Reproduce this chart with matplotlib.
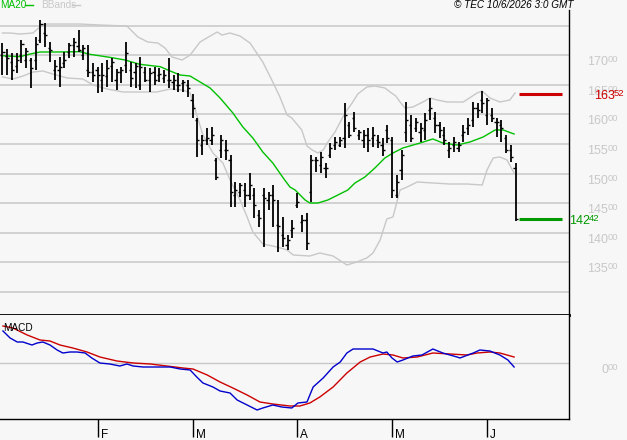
import numpy as np
import pandas as pd
import matplotlib
matplotlib.use("Agg")
import matplotlib.pyplot as plt
import matplotlib.transforms as mtransforms

plt.rcParams['font.family'] = ['Liberation Sans', 'DejaVu Sans']

######################## daily bars (trading days) ########################
holidays = ['2026-04-03', '2026-04-06', '2026-05-01']
dates = pd.bdate_range('2026-01-05', '2026-06-09')
dates = dates[~dates.isin(pd.to_datetime(holidays))]

opens = [17005, 16989, 16887, 16820, 17005, 16921, 16921, 16921, 17259, 17377,
         17124, 16752, 16752, 16870, 17056, 17174, 17158, 17005, 16752, 16718,
         16752, 16583, 16651, 16820, 16583, 16718, 16836, 16752, 16718, 16498,
         16718, 16583, 16718, 16667, 16617, 16583, 16549, 16498, 16532, 16498,
         16245, 15907, 15484, 15569, 15569, 15231, 15400, 15400, 15231, 14639,
         14690, 14724, 14639, 14639, 14301, 14639, 14555, 14639, 14132, 13963,
         13794, 14048, 14470, 14183, 14217, 14690, 15231, 15146, 15096, 15315,
         15484, 15484, 15603, 15822, 15941, 15653, 15569, 15653, 15603, 15569,
         15484, 15738, 15569, 14639, 15062, 15704, 15822, 15772, 15704, 15738,
         16076, 15941, 15822, 15653, 15400, 15484, 15434, 15653, 15772, 15907,
         16110, 16245, 15991, 15991, 15873, 15822, 15603, 15400, 15096]
highs = [17208, 17107, 17039, 17039, 17259, 17124, 16955, 17310, 17597, 17546,
         17225, 16921, 16972, 17056, 17208, 17293, 17428, 17174, 17174, 16870,
         16803, 16870, 16921, 16955, 16769, 16803, 17225, 16887, 16870, 16972,
         16803, 16786, 16803, 16786, 16752, 16955, 16667, 16701, 16583, 16583,
         16346, 15941, 15653, 15772, 15789, 15265, 15653, 15569, 15315, 14859,
         14842, 14842, 15011, 14758, 14386, 14758, 14690, 14808, 14555, 14268,
         13963, 14217, 14673, 14301, 14335, 15315, 15282, 15366, 15180, 15518,
         15620, 15620, 16194, 15873, 16042, 15738, 15738, 15772, 15789, 15653,
         15603, 15822, 15620, 14977, 15400, 16211, 15991, 15941, 15856, 16025,
         16279, 16042, 15873, 15789, 15535, 15620, 15535, 15822, 15941, 16211,
         16194, 16397, 16279, 16110, 15941, 15907, 15653, 15484, 15180]
lows = [16667, 16667, 16583, 16701, 16870, 16786, 16448, 16752, 17208, 17141,
        16887, 16583, 16465, 16786, 16955, 16972, 17056, 16921, 16634, 16549,
        16363, 16380, 16465, 16549, 16414, 16532, 16701, 16465, 16448, 16414,
        16549, 16380, 16498, 16549, 16532, 16448, 16414, 16380, 16380, 16296,
        15941, 15282, 15315, 15484, 15484, 14893, 15265, 15231, 14437, 14437,
        14606, 14437, 14555, 14251, 14099, 13761, 14386, 14099, 13676, 13761,
        13710, 13913, 14420, 14014, 13710, 14521, 15028, 15011, 14927, 15265,
        15400, 15451, 15434, 15603, 15704, 15569, 15434, 15366, 15451, 15434,
        15299, 15518, 14589, 14589, 14893, 15535, 15535, 15704, 15535, 15569,
        15907, 15687, 15603, 15484, 15265, 15366, 15366, 15535, 15653, 15789,
        15941, 16025, 15822, 15873, 15620, 15535, 15349, 15197, 14200]
closes = [17056, 16955, 16752, 16921, 17191, 17073, 16786, 17191, 17529, 17343,
          17090, 16820, 16803, 16921, 17174, 17225, 17090, 17124, 16718, 16667,
          16667, 16667, 16786, 16887, 16718, 16752, 17039, 16617, 16820, 16803,
          16583, 16701, 16583, 16684, 16667, 16583, 16583, 16498, 16549, 16448,
          16110, 15569, 15569, 15603, 15653, 14944, 15569, 15400, 14690, 14724,
          14808, 14639, 14808, 14470, 14251, 14589, 14639, 14555, 14116, 13913,
          13879, 14082, 14521, 14217, 13828, 15231, 15231, 15282, 15096, 15434,
          15535, 15569, 15991, 15653, 15772, 15704, 15653, 15569, 15653, 15535,
          15400, 15603, 14724, 14859, 15315, 15907, 15603, 15873, 15772, 15907,
          16110, 15822, 15738, 15569, 15434, 15535, 15484, 15704, 15822, 16110,
          16076, 16194, 16245, 15941, 15873, 15772, 15400, 15282, 14242]

######################## indicators ########################
ma_pos = [0, 3.7, 5.8, 7.9, 11.1, 16.3, 18.4, 22.6, 25.8, 28.9, 33.2, 35.3, 37.4, 39.5,
          43.7, 45.8, 48.5, 50.6, 52.7, 54.8, 56.9, 59.1, 60.5, 61.6, 63.7, 64.7, 66.4,
          68.5, 70.6, 72.7, 74.2, 76.3, 78.4, 80.5, 82.2, 84.3, 87.9, 90.6, 92.7, 95.7,
          98.4, 101.2, 103.7, 105.4, 107.7]
ma_vals = [16993, 16977, 17022, 17056, 17056, 17061, 17017, 16966, 16921, 16848, 16808,
           16735, 16667, 16650, 16448, 16279, 16025, 15789, 15603, 15366, 15180, 14927,
           14775, 14724, 14555, 14504, 14504, 14555, 14639, 14724, 14842, 14944, 15096,
           15265, 15349, 15434, 15518, 15586, 15518, 15484, 15535, 15620, 15738, 15738,
           15670]

bb_up_pos = [0, 1.6, 3.7, 6.4, 7.9, 9.4, 12.1, 16.3, 20.5, 26.2, 28.5, 30.6, 32.7, 34.2,
             35.7, 37.8, 39.5, 41.6, 43.7, 45.2, 46.2, 47.9, 50.0, 52.1, 54.8, 56.9, 58.4,
             59.9, 60.9, 63.0, 64.1, 65.2, 66.4, 67.5, 68.5, 70.0, 72.1, 73.6, 74.8, 76.7,
             78.4, 80.5, 81.6, 82.8, 83.7, 84.7, 86.4, 88.5, 90.0, 91.5, 93.6, 97.0, 99.9,
             101.0, 102.6, 104.7, 106.8, 107.9]
bb_up_vals = [17377, 17377, 17360, 17377, 17479, 17529, 17529, 17529, 17512, 17495, 17310,
              17225, 17208, 17124, 16972, 16921, 17005, 17225, 17326, 17394, 17343, 17377,
              17326, 17208, 16887, 16549, 16296, 15991, 15941, 15738, 15467, 15400, 15349,
              15400, 15535, 15704, 16025, 16194, 16346, 16465, 16481, 16448, 16380, 16312,
              16211, 16110, 16127, 16211, 16279, 16245, 16211, 16211, 16363, 16397, 16279,
              16211, 16245, 16363]

bb_lo_pos = [0, 2.2, 4.3, 6.4, 8.5, 10.6, 13.6, 16.9, 19.1, 22.0, 25.4, 28.9, 32.5, 35.3,
             38.0, 39.5, 40.9, 42.2, 44.3, 46.4, 47.9, 50.0, 51.5, 52.7, 54.8, 57.8, 59.9,
             61.2, 64.7, 66.8, 69.6, 72.5, 74.6, 76.7, 78.0, 79.5, 80.9, 82.2, 83.7, 85.2,
             87.3, 90.6, 94.2, 97.8, 101.0, 102.0, 103.3, 104.7, 106.2, 107.7]
bb_lo_vals = [16634, 16600, 16650, 16718, 16735, 16684, 16617, 16600, 16498, 16431, 16380,
              16380, 16380, 16431, 16414, 16363, 15991, 15653, 15349, 15180, 14893, 14555,
              14268, 14014, 13811, 13761, 13710, 13625, 13608, 13659, 13608, 13456, 13507,
              13575, 13659, 13879, 14234, 14268, 14724, 14775, 14859, 14842, 14825, 14825,
              14808, 15062, 15265, 15282, 15231, 15011]

macd_pos = [0.1, 1.6, 3.1, 4.3, 6.2, 7.3, 8.5, 10.0, 11.5, 12.7, 14.2, 15.7, 17.4, 18.8,
            20.5, 22.6, 24.7, 26.2, 27.5, 29.6, 32.5, 35.3, 37.4, 39.5, 40.9, 42.2, 44.3,
            45.8, 47.9, 49.4, 51.5, 53.6, 54.8, 56.9, 58.8, 60.9, 62.2, 64.1, 65.4, 67.5,
            69.6, 71.1, 72.5, 73.8, 78.0, 80.1, 80.9, 82.0, 83.1, 84.3, 86.4, 88.3, 90.6,
            92.7, 95.7, 96.3, 99.1, 100.5, 102.6, 104.7, 106.4, 107.7]
macd_vals = [256, 200, 168, 168, 144, 160, 168, 144, 104, 80, 88, 88, 80, 40,
             0, -8, -24, -8, -24, -32, -32, -32, -48, -56, -112, -160, -192,
             -224, -240, -296, -336, -376, -360, -336, -352, -360, -320, -312, -192, -120,
             -32, 8, 80, 112, 112, 80, 88, 40, 8, 24, 56, 64, 112,
             80, 48, 40, 80, 104, 96, 64, 24, -32]

signal_pos = [0.1, 2.2, 5.2, 7.9, 10.0, 12.1, 14.8, 17.8, 20.5, 24.1, 27.5, 31.1, 34.6,
              38.0, 40.1, 43.1, 45.8, 48.5, 51.5, 54.2, 56.9, 60.5, 62.6, 64.7, 66.8, 69.6,
              72.5, 75.3, 77.4, 80.1, 82.2, 84.3, 87.3, 90.6, 94.2, 97.8, 99.9, 102.6, 104.7,
              107.7]
signal_vals = [296, 280, 224, 184, 176, 144, 120, 88, 48, 16, 0, -8, -24,
               -40, -48, -96, -152, -200, -256, -312, -328, -344, -344, -320, -272, -192,
               -80, 8, 48, 72, 64, 40, 48, 80, 72, 64, 80, 88, 80,
               48]

level_high = 16352
level_last = 14242
grid_levels = np.arange(13000, 17501, 500)
label_levels = np.arange(13500, 17001, 500)

##############################################################################
#################################### Plot ####################################
##############################################################################
W, H = 627, 440
bg = '#f7f7f7'
gray = '#c8c8c8'

fig = plt.figure(figsize=(W / 100, H / 100), dpi=100, facecolor=bg)
ax = fig.add_axes([0, (H - 315) / H, 569 / W, 305 / H], facecolor=bg)
axm = fig.add_axes([0, (H - 419) / H, 569 / W, 104 / H], facecolor=bg, sharex=ax)

x = np.arange(len(closes))
xlim = (-0.526, 119.26)

for lv in grid_levels:
    ax.axhline(lv, color=gray, lw=1.1, zorder=1)

ax.plot(bb_up_pos, bb_up_vals, color=gray, lw=1, zorder=2)
ax.plot(bb_lo_pos, bb_lo_vals, color=gray, lw=1, zorder=2)
ax.plot(ma_pos, ma_vals, color='#00c000', lw=1, zorder=3)

ax.vlines(x, lows, highs, color='black', lw=1.3, zorder=4)
ax.hlines(opens, x - 0.45, x, color='black', lw=1, zorder=4)
ax.hlines(closes, x, x + 0.45, color='black', lw=1, zorder=4)

n = len(closes)
ax.hlines(level_high, n - 0.3, n + 8.8, color='#cc0000', lw=2.2, zorder=4)
ax.hlines(level_last, n - 0.3, n + 8.8, color='#009900', lw=2.2, zorder=4)

ax.set_xlim(*xlim)
ax.set_ylim(12611, 17766)
for s in ['left', 'top']:
    ax.spines[s].set_visible(False)
ax.spines['right'].set_linewidth(1)
ax.spines['bottom'].set_linewidth(2)
ax.tick_params(left=False, bottom=False, labelleft=False, labelbottom=False)


def two_part(axis, xm, xs, y, big, small, color, dy):
    # big digits + raised small digits, like "170" "00"
    tr = mtransforms.blended_transform_factory(fig.transFigure, axis.transData)
    t1 = mtransforms.offset_copy(tr, fig=fig, y=-dy, units='dots')
    t2 = mtransforms.offset_copy(tr, fig=fig, y=-dy + 3, units='dots')
    axis.text(xm / W, y, big, transform=t1, color=color, fontsize=9,
              va='baseline', ha='left', clip_on=False)
    axis.text(xs / W, y, small, transform=t2, color=color, fontsize=6.8,
              va='baseline', ha='left', clip_on=False)


for lv in label_levels:
    two_part(ax, 587, 608, lv, str(lv // 100), '%02d' % (lv % 100), gray, 10)
two_part(ax, 594, 614, level_high, str(level_high // 100), '%02d' % (level_high % 100), '#cc0000', 5)
two_part(ax, 569, 589, level_last, str(level_last // 100), '%02d' % (level_last % 100), '#009900', 5)

# legend + stamp
fig.text(0 / W, (H - 8) / H, 'MA20', color='#00c000', fontsize=7.2, va='baseline')
fig.add_artist(plt.Line2D([25 / W, 33 / W], [(H - 5) / H] * 2, color='#00c000', lw=1))
fig.text(41 / W, (H - 8) / H, 'BBands', color=gray, fontsize=7.2, va='baseline')
fig.add_artist(plt.Line2D([72 / W, 80 / W], [(H - 5) / H] * 2, color=gray, lw=1))
fig.text(574 / W, (H - 8) / H, '\u00a9 TEC 10/6/2026 3:0 GMT', color='black',
         fontsize=7.2, style='italic', ha='right', va='baseline')

# MACD panel
axm.axhline(0, color=gray, lw=1, zorder=1)
axm.plot(macd_pos, macd_vals, color='#0000cc', lw=1, zorder=3)
axm.plot(signal_pos, signal_vals, color='#cc0000', lw=1, zorder=2)
axm.set_ylim(-448, 384)
axm.set_xlim(*xlim)
for s in ['left', 'top']:
    axm.spines[s].set_visible(False)
axm.spines['right'].set_linewidth(1)
axm.spines['bottom'].set_linewidth(1)
axm.text(3 / W, (H - 331) / H, 'MACD', transform=fig.transFigure, fontsize=7.2,
         va='baseline', color='black')
two_part(axm, 601, 608, 0, '0', '00', gray, 10)

month_idx = [i for i in range(1, n) if dates[i].month != dates[i - 1].month]
axm.set_xticks(month_idx)
axm.tick_params(axis='x', direction='out', length=13, width=1, color='black',
                labelbottom=False)
axm.tick_params(axis='y', left=False, labelleft=False)
trm = mtransforms.offset_copy(
    mtransforms.blended_transform_factory(axm.transData, fig.transFigure),
    fig=fig, x=3, units='dots')
for i in month_idx:
    axm.text(i, (H - 438) / H, dates[i].strftime('%b')[0], transform=trm,
             fontsize=8.5, va='baseline', ha='left', clip_on=False)

fig.savefig('out.png', dpi=100, facecolor=bg)
